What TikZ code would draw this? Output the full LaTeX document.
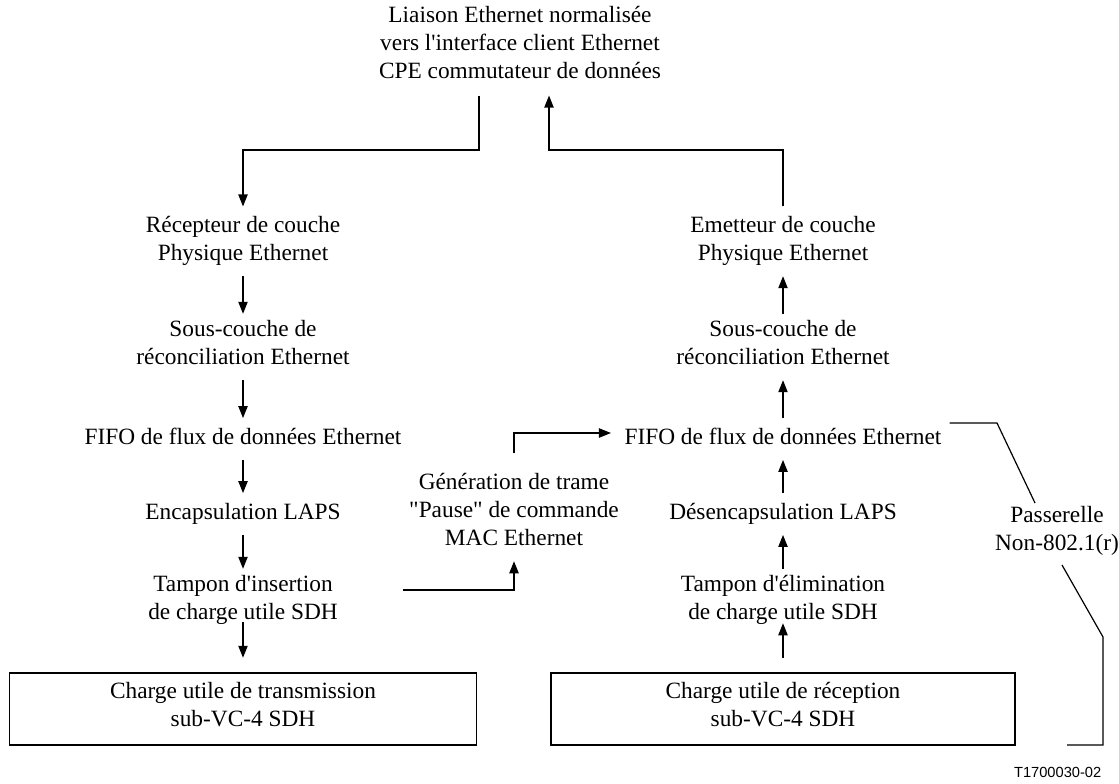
\documentclass[tikz,border=0pt]{standalone}
\usepackage{fontspec}
\setmainfont{Liberation Serif}[Ligatures=TeXOff]
\newfontfamily\figfont{Liberation Sans}
\usetikzlibrary{arrows.meta}

\tikzset{
    lbl/.style = {align=center, inner xsep=2pt, inner ysep=0pt,
                  font=\fontsize{17.5}{21}\selectfont,
                  execute at begin node=\strut, execute at end node=\strut},
    payload/.style = {lbl, draw, line width=0.9pt, minimum height=54pt},
    flow/.style = {-{Triangle[width=7pt,length=9pt]}, line width=0.9pt,
                   shorten <=5pt, shorten >=5pt},
    link/.style = {line width=0.9pt},
}

\begin{document}
\begin{tikzpicture}[x=0.75pt, y=-0.75pt]
            \useasboundingbox (0,0) rectangle (1119,783);

            \node[lbl] (top) at (520,47) {Liaison Ethernet normalisée\\vers l'interface client Ethernet\\CPE commutateur de données};

            % Ethernet -> SDH
            \node[lbl] (rxPhy) at (243,243) {Récepteur de couche\\Physique Ethernet};
            \node[lbl] (rxRec) at (243,347) {Sous-couche de\\réconciliation Ethernet};
            \node[lbl] (rxFifo) at (243,439) {FIFO de flux de données Ethernet};
            \node[lbl] (laps) at (243,514) {Encapsulation LAPS};
            \node[lbl] (insBuf) at (243,602) {Tampon d'insertion\\de charge utile SDH};
            \node[payload, minimum width=350pt] (txPay) at (243,709) {Charge utile de transmission\\sub-VC-4 SDH};

            % SDH -> Ethernet
            \node[lbl] (txPhy) at (783,243) {Emetteur de couche\\Physique Ethernet};
            \node[lbl] (txRec) at (783,347) {Sous-couche de\\réconciliation Ethernet};
            \node[lbl] (txFifo) at (783,439) {FIFO de flux de données Ethernet};
            \node[lbl] (delaps) at (783,514) {Désencapsulation LAPS};
            \node[lbl] (remBuf) at (783,602) {Tampon d'élimination\\de charge utile SDH};
            \node[payload, minimum width=348pt] (rxPay) at (783,709) {Charge utile de réception\\sub-VC-4 SDH};

            \node[lbl] (pause) at (514,514) {Génération de trame\\"Pause" de commande\\MAC Ethernet};
            \node[lbl] (gw) at (1057,533) {Passerelle\\Non-802.1(r)};
            \node[font=\figfont\fontsize{11}{13}\selectfont, anchor=east] (figno) at (1106,772) {T1700030-02};

            % client link
            \coordinate (outL) at (479,150);
            \coordinate (inR) at (549,150);
            \coordinate (outL0) at (top.south -| outL);
            \coordinate (inR0) at (top.south -| inR);
            \draw[flow, shorten <=0pt, shorten >=7.5pt] ([yshift=-6pt]outL0) -- (outL) -| (rxPhy);
            \draw[flow, shorten <=7.5pt, shorten >=0pt] (txPhy) |- (inR) -- ([yshift=-6pt]inR0);

            \draw[flow] (rxPhy) -- (rxRec);
            \draw[flow] (rxRec) -- (rxFifo);
            \draw[flow] (rxFifo) -- (laps);
            \draw[flow] (laps) -- (insBuf);
            \draw[flow, shorten <=-5pt, shorten >=11pt] (insBuf) -- (txPay);

            \draw[flow] (txRec) -- (txPhy);
            \draw[flow] (txFifo) -- (txRec);
            \draw[flow] (delaps) -- (txFifo);
            \draw[flow] (remBuf) -- (delaps);
            \draw[flow, shorten <=11pt, shorten >=-4pt] (rxPay) -- (remBuf);

            % pause frames
            \coordinate (pauseIn) at (403,590);
            \draw[flow, shorten <=0pt] (pauseIn) -| (pause);
            \draw[flow, shorten <=15pt, shorten >=8pt] (pause) |- ([yshift=4.5pt]txFifo.west);

            % gateway bracket
            \coordinate (gwA) at (997,423);
            \coordinate (gwB) at (1035,503);
            \coordinate (gwC) at (1062,565);
            \coordinate (gwD) at (1103,637);
            \coordinate (gwE) at (1067,745);
            \draw[link] ([xshift=4pt,yshift=12pt]txFifo.east) -- (gwA) -- (gwB);
            \draw[link] (gwC) -- (gwD) |- (gwE);
\end{tikzpicture}
\end{document}
